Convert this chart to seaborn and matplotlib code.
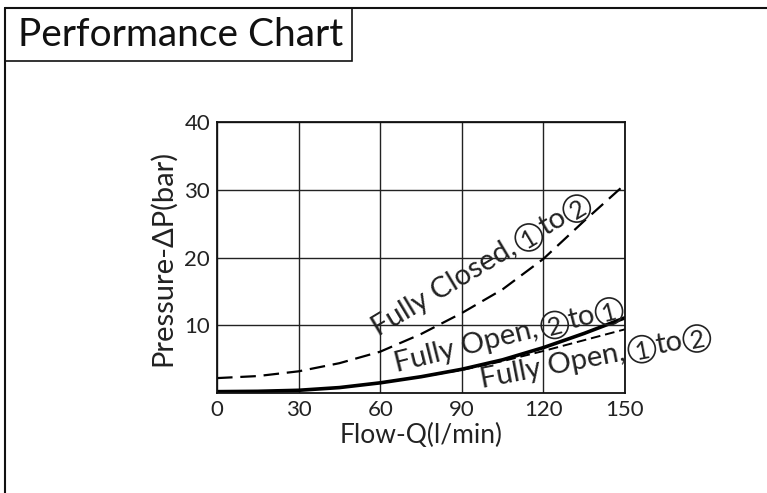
import matplotlib
matplotlib.use("Agg")
import numpy as np
import matplotlib.pyplot as plt
import seaborn as sns
import pandas as pd
from matplotlib.lines import Line2D
from matplotlib.patches import Rectangle, Circle
from matplotlib.transforms import IdentityTransform

# ---- data ----
flow = [0, 15, 30, 45, 60, 75, 90, 105, 120, 135, 150]
closed_1to2 = [2.2, 2.5, 3.2, 4.4, 6.1, 8.7, 11.8, 15.3, 19.8, 25.4, 30.8]
open_2to1 = [0.2, 0.25, 0.4, 0.8, 1.5, 2.4, 3.5, 4.9, 6.7, 8.8, 11.1]
open_1to2 = [0.2, 0.25, 0.4, 0.8, 1.5, 2.4, 3.4, 4.7, 6.2, 7.8, 9.4]
x_ticks = [0, 30, 60, 90, 120, 150]
y_ticks = [10, 20, 30, 40]
title = "Performance Chart"
x_label = "Flow-Q(l/min)"
y_label = "Pressure-ΔP(bar)"
# curve labels: (text, circled?) pieces -> "Fully Closed, ①to②" etc.
lbl_closed = [("Fully Closed,", False), ("1", True), ("to", False), ("2", True)]
lbl_open21 = [("Fully Open,", False), ("2", True), ("to", False), ("1", True)]
lbl_open12 = [("Fully Open,", False), ("1", True), ("to", False), ("2", True)]

sns.set_theme(style="white")
fam = ["Lato", "DejaVu Sans", "Noto Sans CJK SC"]
plt.rcParams["font.family"] = fam

fig = plt.figure(figsize=(7.67, 4.93), dpi=100)
W, H = 767, 493
ax = fig.add_axes([217 / W, 1 - 393 / H, (625 - 217) / W, (393 - 122) / H])

df = pd.DataFrame({
    "flow": flow * 3,
    "dp": closed_1to2 + open_2to1 + open_1to2,
    "curve": ["closed"] * len(flow) + ["open21"] * len(flow) + ["open12"] * len(flow),
})

sns.lineplot(data=df[df.curve == "closed"], x="flow", y="dp", ax=ax,
             color="black", lw=1.6, linestyle=(0, (7, 3.5)))
sns.lineplot(data=df[df.curve == "open12"], x="flow", y="dp", ax=ax,
             color="black", lw=1.4, linestyle=(0, (5, 2.5)))
sns.lineplot(data=df[df.curve == "open21"], x="flow", y="dp", ax=ax,
             color="black", lw=2.6)

ax.set_xlim(0, 150)
ax.set_ylim(0, 40)
ax.set_xticks(x_ticks)
ax.set_yticks(y_ticks)
ax.tick_params(length=0, labelsize=16, colors="#222222", pad=5)
ax.grid(True, color="#222222", lw=1.0)
for s in ax.spines.values():
    s.set_color("#111111")
    s.set_linewidth(1.3)
ax.set_xlabel(x_label, fontsize=19, color="#222222", labelpad=2)
ax.set_ylabel(y_label, fontsize=21, color="#222222", labelpad=6)

renderer = fig.canvas.get_renderer()
TXT = 21
DIG = 18
CIRC_R = 13.5
TEXT_COLOR = "#222222"


def text_width(s, size):
    t = fig.text(0, 0, s, fontsize=size, family=fam)
    w = t.get_window_extent(renderer).width
    t.remove()
    return w


def place_label(start_xy, angle, pieces):
    p0 = ax.transData.transform(start_xy)
    a = np.deg2rad(angle)
    d = np.array([np.cos(a), np.sin(a)])
    n = np.array([-np.sin(a), np.cos(a)])
    cur = p0.copy()
    lift = 7.5
    for s, circ in pieces:
        if not circ:
            fig.text(cur[0], cur[1], s, fontsize=TXT, family=fam, color=TEXT_COLOR,
                     rotation=angle, rotation_mode="anchor", ha="left",
                     va="baseline", transform=IdentityTransform())
            w = text_width(s, TXT)
            cur = cur + d * (w + (4 if s.endswith(",") else 1))
        else:
            c = cur + d * CIRC_R + n * lift
            fig.text(c[0], c[1], s, fontsize=DIG, family=fam, color=TEXT_COLOR,
                     rotation=angle, rotation_mode="anchor", ha="center",
                     va="center_baseline", transform=IdentityTransform())
            fig.add_artist(Circle((c[0], c[1]), CIRC_R, transform=IdentityTransform(),
                                  fill=False, ec=TEXT_COLOR, lw=1.2))
            cur = cur + d * (2 * CIRC_R + 1)


place_label((59.2, 8.3), 31, lbl_closed)
place_label((66.2, 3.1), 14, lbl_open21)
place_label((97.4, 0.75), 11, lbl_open12)

# frame and title box
fig.add_artist(Line2D([5 / W, 1], [1 - 8 / H, 1 - 8 / H], color="#111111", lw=1.5,
                      transform=fig.transFigure))
fig.add_artist(Line2D([5 / W, 5 / W], [1 - 8 / H, 0], color="#111111", lw=1.5,
                      transform=fig.transFigure))
fig.add_artist(Rectangle((5 / W, 1 - 61 / H), (352 - 5) / W, (61 - 8) / H,
                         fill=False, ec="#111111", lw=1.2, transform=fig.transFigure))
fig.text(18 / W, 1 - 35 / H, title, fontsize=28, color="#111111", va="center",
         ha="left", family=fam)

fig.savefig("out.png", dpi=100, facecolor="white")
